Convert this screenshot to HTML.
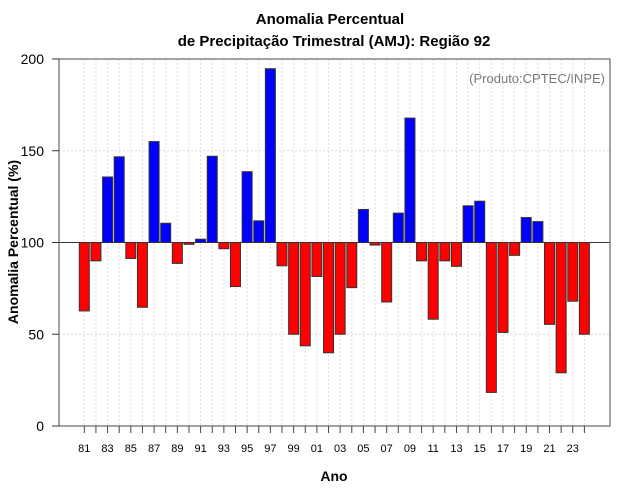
<!DOCTYPE html>
<html><head><meta charset="utf-8"><style>
body{margin:0;background:#fff}
svg{display:block;font-family:"Liberation Sans",sans-serif}
</style></head><body>
<svg id="chart" width="640" height="500">
<text x="330" y="24" text-anchor="middle" font-size="15" font-weight="bold">Anomalia Percentual</text>
<text x="334" y="46" text-anchor="middle" font-size="15" font-weight="bold">de Precipitação Trimestral (AMJ): Região 92</text>
<text x="18" y="242" text-anchor="middle" font-size="14" font-weight="bold" transform="rotate(-90 18 242)">Anomalia Percentual (%)</text>
<text x="334" y="481" text-anchor="middle" font-size="14" font-weight="bold">Ano</text>
<text x="605" y="83" text-anchor="end" font-size="13" fill="#777">(Produto:CPTEC/INPE)</text>
<g id="grid"></g><g id="bars"></g><g id="axes"></g>
</svg>
<script>
const years=[81,82,83,84,85,86,87,88,89,90,91,92,93,94,95,96,97,98,99,0,1,2,3,4,5,6,7,8,9,10,11,12,13,14,15,16,17,18,19,20,21,22,23,24];
const values=[62.7,90,135.7,146.7,91.3,64.7,155,110.5,88.6,99,101.8,147,96.6,76,138.6,111.8,194.7,87.3,50,43.7,81.5,39.9,50,75.4,118,98.6,67.6,116,167.8,90,58.2,90,87,120,122.5,18.3,51,93,113.6,111.4,55.4,29,68,50];
const yTicks=[0,50,100,150,200];
const NS='http://www.w3.org/2000/svg';
const L=59,R=610,T=59,B=426;
const y=v=>B-(v/200)*(B-T);
const x=i=>84.3+i*11.63;
function mk(tag,at,parent){const e=document.createElementNS(NS,tag);for(const k in at)e.setAttribute(k,at[k]);document.getElementById(parent).appendChild(e);return e;}
years.forEach((yr,i)=>{
  const g=mk('line',{x1:x(i),x2:x(i),y1:T,y2:B,stroke:'#ddd','stroke-dasharray':'2,2'},'grid');
  
  
});
yTicks.forEach(v=>{
  if(v===0||v===100)return;
  const g=mk('line',{x1:L,x2:R,y1:y(v),y2:y(v),stroke:'#ddd','stroke-dasharray':'2,2'},'grid');
  
  
});
values.forEach((v,i)=>{
  const top=Math.min(y(v),y(100)),h=Math.abs(y(v)-y(100));
  const r=mk('rect',{x:x(i)-5,y:top,width:10,height:Math.max(h,0.5),fill:v>=100?'#0000ff':'#ff0000',stroke:'#333','stroke-width':1},'bars');
  
  
});
const base=mk('line',{x1:L,x2:R,y1:y(100),y2:y(100),stroke:'#333','stroke-width':1},'axes');


const fr=mk('rect',{x:L,y:T,width:R-L,height:B-T,fill:'none',stroke:'#666','stroke-width':1.2},'axes');


yTicks.forEach(v=>{
  const t=mk('line',{x1:52,x2:L,y1:y(v),y2:y(v),stroke:'#333'},'axes');
  
  
  const lb=mk('text',{x:44,y:y(v)+5,'text-anchor':'end','font-size':14},'axes');
  lb.textContent=v;
  
  
});
years.forEach((yr,i)=>{
  const t=mk('line',{x1:x(i),x2:x(i),y1:B,y2:B+7,stroke:'#444'},'axes');
  
  
  if(i%2===0){
    const lb=mk('text',{x:x(i),y:452,'text-anchor':'middle','font-size':11},'axes');
    lb.textContent=String(yr).padStart(2,'0');
    
    
  }
});
</script>
</body></html>
